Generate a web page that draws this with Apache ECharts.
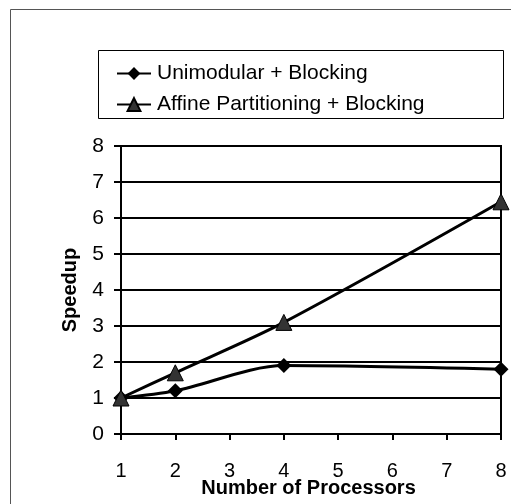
<!DOCTYPE html>
<html>
<head>
<meta charset="utf-8">
<script src="https://cdn.jsdelivr.net/npm/echarts@6/dist/echarts.min.js"></script>
<style>
html,body{margin:0;padding:0;background:#fff;}
#c{width:511px;height:504px;}
</style>
</head>
<body>
<div id="c"></div>
<script>
const seriesNames = ['Unimodular + Blocking', 'Affine Partitioning + Blocking'];
const processors = [1, 2, 4, 8];
const unimodular = [1.0, 1.2, 1.9, 1.8];
const affine = [1.0, 1.7, 3.1, 6.45];
const xTicks = [1, 2, 3, 4, 5, 6, 7, 8];
const yTicks = [0, 1, 2, 3, 4, 5, 6, 7, 8];

const font = '"Liberation Sans", Arial, sans-serif';
const chart = echarts.init(document.getElementById('c'), null, {renderer: 'canvas'});

chart.setOption({
  backgroundColor: '#fff',
  animation: false,
  graphic: [
    {type: 'line', shape: {x1: 10.5, y1: 9.5, x2: 511, y2: 9.5}, style: {stroke: '#555', lineWidth: 1}},
    {type: 'line', shape: {x1: 10.5, y1: 9.5, x2: 10.5, y2: 504}, style: {stroke: '#555', lineWidth: 1}},
    {type: 'rect', shape: {x: 98.5, y: 50.5, width: 405, height: 68}, style: {fill: 'none', stroke: '#000', lineWidth: 1}}
  ],
  legend: {
    orient: 'vertical',
    left: 116,
    top: 63,
    itemWidth: 34,
    itemHeight: 16,
    itemGap: 10,
    padding: 0,
    data: seriesNames,
    textStyle: {fontFamily: font, fontSize: 21, color: '#000', padding: [0, 0, 0, 1]}
  },
  grid: {left: 121, right: 10, top: 146, bottom: 70, show: true, borderColor: '#000', borderWidth: 2, containLabel: false, outerBoundsMode: 'none'},
  xAxis: {
    type: 'value',
    min: xTicks[0],
    max: xTicks[xTicks.length - 1],
    interval: 1,
    name: 'Number of Processors',
    nameLocation: 'middle',
    nameGap: 44,
    nameMoveOverlap: false,
    nameTextStyle: {fontFamily: font, fontSize: 20, fontWeight: 'bold', color: '#000', padding: [0, 0, 0, -5]},
    axisLine: {show: true, lineStyle: {color: '#000', width: 2}},
    axisTick: {show: true, inside: false, length: 6, lineStyle: {color: '#000', width: 2}},
    axisLabel: {fontFamily: font, fontSize: 20, color: '#000', margin: 27},
    splitLine: {show: false}
  },
  yAxis: {
    type: 'value',
    min: yTicks[0],
    max: yTicks[yTicks.length - 1],
    interval: 1,
    name: 'Speedup',
    nameLocation: 'middle',
    nameGap: 41,
    nameMoveOverlap: false,
    nameTextStyle: {fontFamily: font, fontSize: 20, fontWeight: 'bold', color: '#000'},
    axisLine: {show: true, lineStyle: {color: '#000', width: 2}},
    axisTick: {show: true, inside: false, length: 7, lineStyle: {color: '#000', width: 2}},
    axisLabel: {fontFamily: font, fontSize: 21, color: '#000', margin: 17},
    splitLine: {show: true, lineStyle: {color: '#000', width: 2}}
  },
  series: [
    {
      name: seriesNames[0],
      type: 'line',
      smooth: 0.3,
      data: processors.map((p, i) => [p, unimodular[i]]),
      symbol: 'diamond',
      symbolSize: 15,
      lineStyle: {color: '#000', width: 3},
      itemStyle: {color: '#000', borderColor: '#000', borderWidth: 0}
    },
    {
      name: seriesNames[1],
      type: 'line',
      smooth: 0.3,
      data: processors.map((p, i) => [p, affine[i]]),
      symbol: 'triangle',
      symbolSize: [16, 16],
      lineStyle: {color: '#000', width: 3},
      itemStyle: {color: '#333', borderColor: '#000', borderWidth: 1}
    }
  ]
});
</script>
</body>
</html>
